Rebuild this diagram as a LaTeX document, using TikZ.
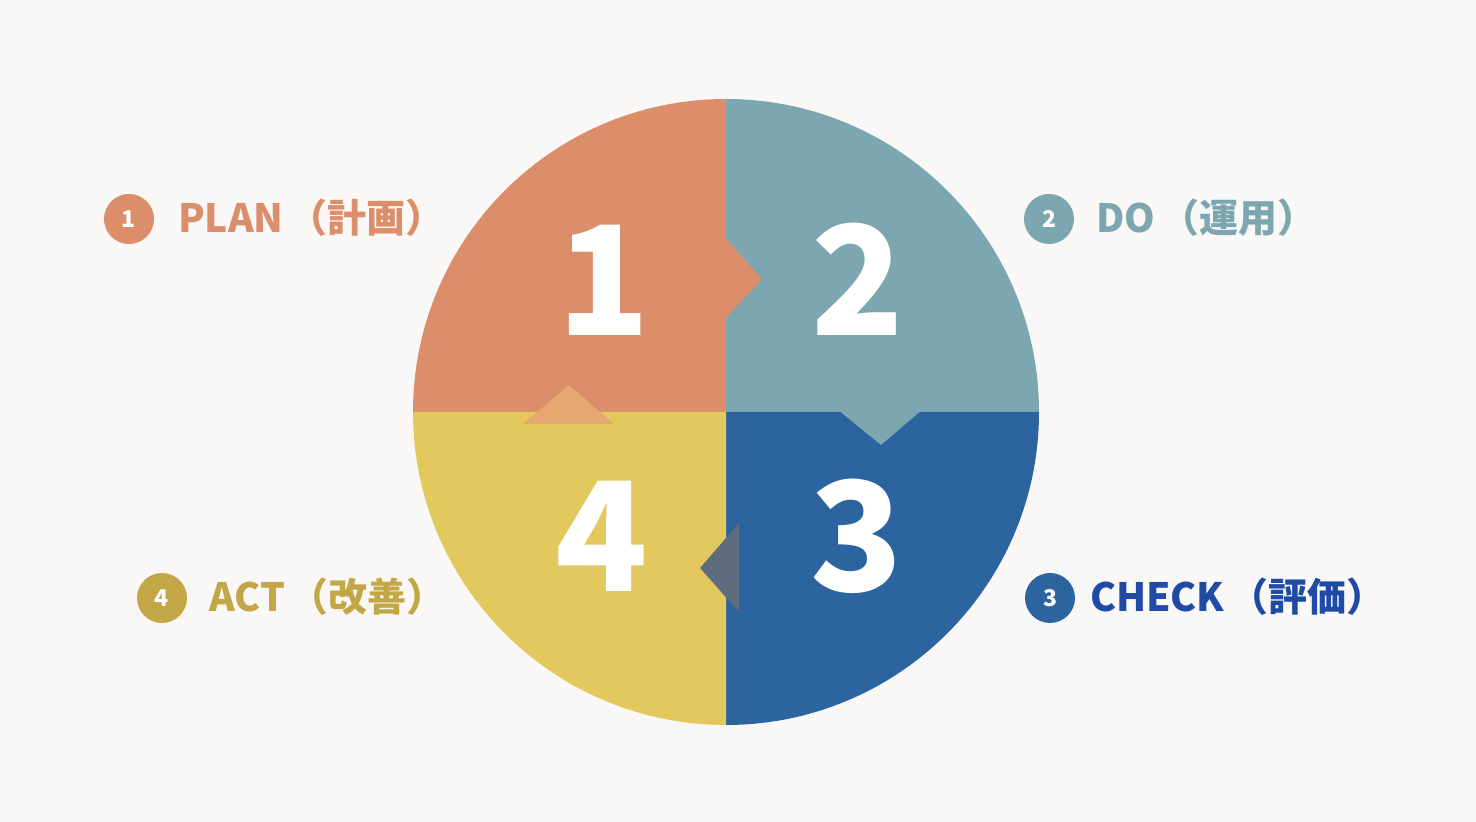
\documentclass[tikz,border=0pt]{standalone}
\usepackage{fontspec}
\newfontfamily\cjk{Noto Sans CJK JP}
\definecolor{bgc}{HTML}{F9F8F6}
\definecolor{plan}{HTML}{DC8D6A}
\definecolor{doc}{HTML}{7DA7B0}
\definecolor{chk}{HTML}{2C64A0}
\definecolor{chktxt}{HTML}{1F4BA6}
\definecolor{act}{HTML}{E2C85D}
\definecolor{acttxt}{HTML}{C3A645}
\definecolor{tria}{HTML}{5E6C7D}
\definecolor{trib}{HTML}{E6A773}
\newcommand{\lgap}{\hspace{5pt}}
\tikzset{
  bignum/.style={text=white, font=\cjk\bfseries\fontsize{152}{152}\selectfont, inner sep=0pt, anchor=base},
  badge/.style={circle, minimum size=50pt, inner sep=0pt, text=white, font=\cjk\bfseries\fontsize{23}{23}\selectfont},
  lbl/.style={font=\cjk\bfseries\fontsize{39}{39}\selectfont, inner sep=0pt, anchor=base west}
}
\begin{document}
\begin{tikzpicture}[x=1pt,y=1pt]
\fill[bgc] (0,0) rectangle (1476,822);
\useasboundingbox (0,0) rectangle (1476,822);
\coordinate (c) at (726,410);
% quadrants
\fill[plan] (c) -- (413,410) arc[start angle=180,end angle=90,radius=313] -- cycle;
\fill[doc] (c) -- (726,723) arc[start angle=90,end angle=0,radius=313] -- cycle;
\fill[chk] (c) -- (1039,410) arc[start angle=0,end angle=-90,radius=313] -- cycle;
\fill[act] (c) -- (726,97) arc[start angle=-90,end angle=-180,radius=313] -- cycle;
% arrow notches
\fill[plan] (726,583) -- (762,543) -- (726,504) -- cycle;
\fill[doc] (840,410.5) -- (881,377) -- (920,410.5) -- cycle;
\fill[tria] (739,299) -- (700,254) -- (739,210) -- cycle;
\fill[trib] (523,398) -- (569,437) -- (614,398) -- cycle;
% big numbers
\node[bignum] (n1) at (604,486) {1};
\node[bignum] (n2) at (858,486) {2};
\node[bignum] (n3) at (857,230) {3};
\node[bignum] (n4) at (602,230) {4};
% labels
\node[badge, fill=plan] (b1) at (129,603) {1};
\node[lbl, text=plan] (l1) at (178,589) {PLAN\lgap（計画）};
\node[badge, fill=doc] (b2) at (1049,603) {2};
\node[lbl, text=doc] (l2) at (1096,589) {DO\lgap（運用）};
\node[badge, fill=chk] (b3) at (1050,224) {3};
\node[lbl, text=chktxt] (l3) at (1090,210) {CHECK\lgap（評価）};
\node[badge, fill=acttxt] (b4) at (162,224) {4};
\node[lbl, text=acttxt] (l4) at (209,210) {ACT\lgap（改善）};
\end{tikzpicture}
\end{document}
